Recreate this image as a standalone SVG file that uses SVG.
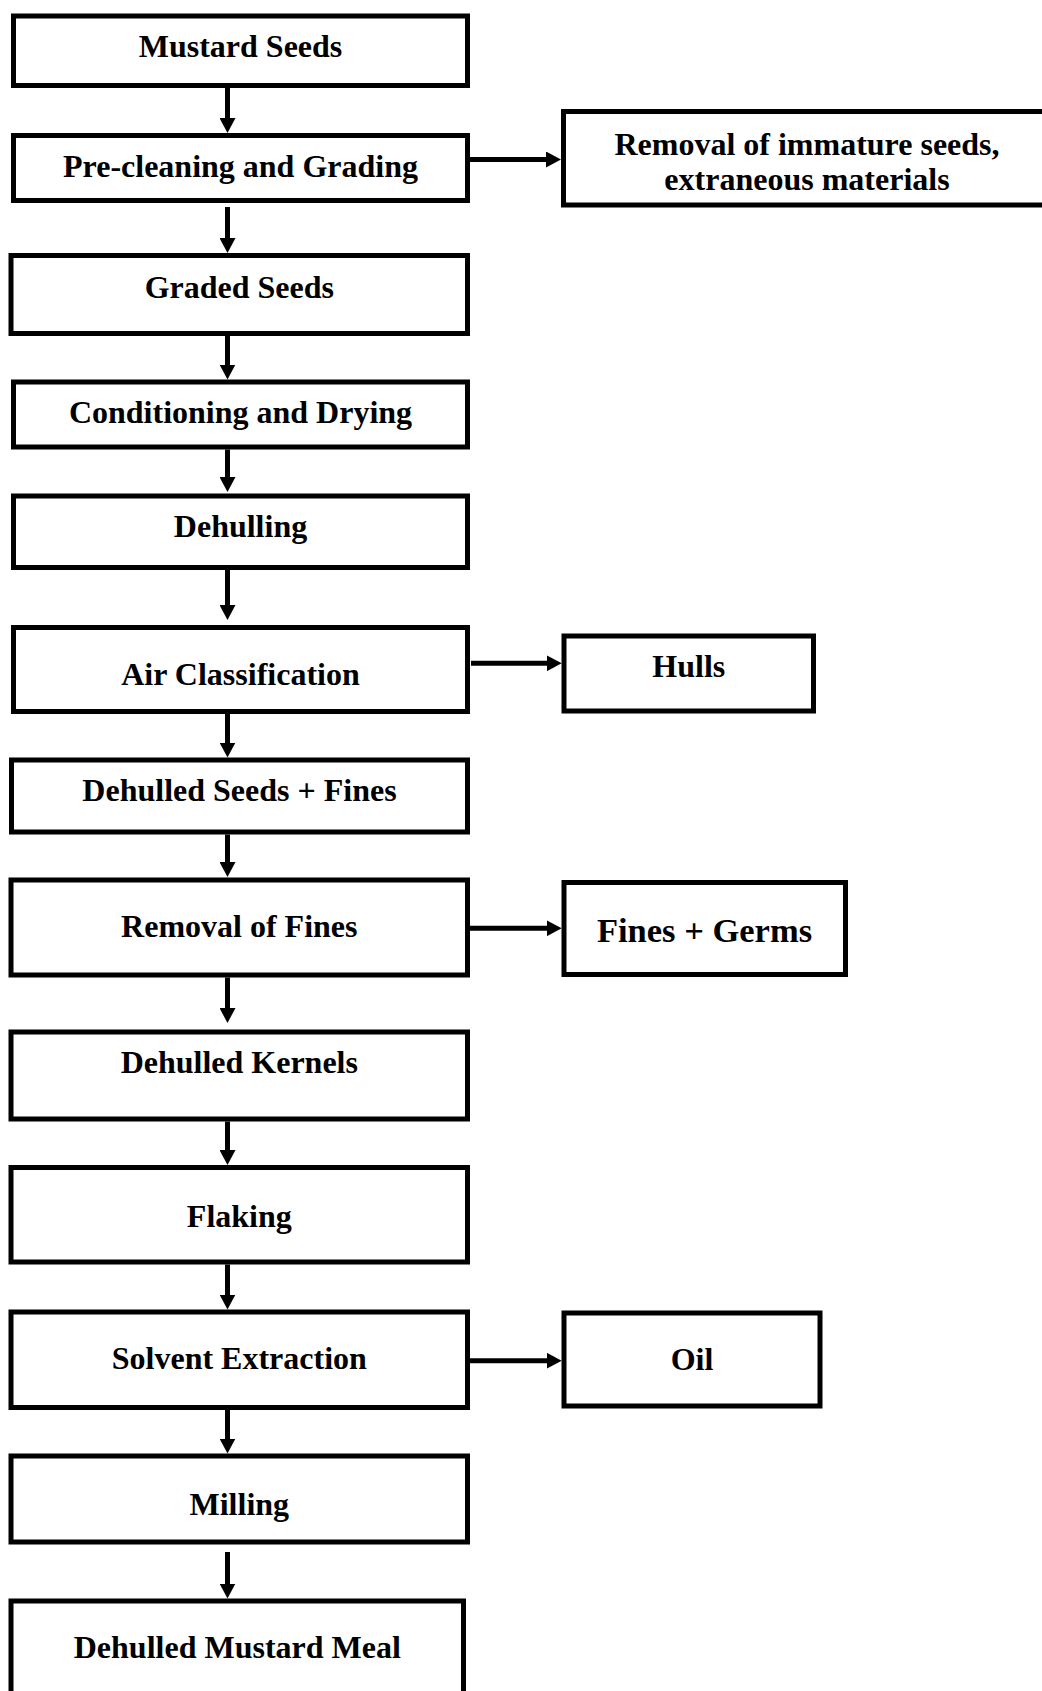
<svg xmlns="http://www.w3.org/2000/svg" width="1042" height="1691" viewBox="0 0 1042 1691">
<style>
.box{fill:#fff;stroke:#000;stroke-width:5}
.t{font-family:"Liberation Serif","Times New Roman",serif;font-weight:bold;font-size:32px;text-anchor:middle;fill:#000}
.c{stroke:#000;stroke-width:5;fill:none;marker-end:url(#ah)}
</style>
<defs>
<marker id="ah" markerUnits="userSpaceOnUse" markerWidth="15" markerHeight="16" refX="5" refY="8" orient="auto">
<path d="M0,0 L15,8 L0,16 z" fill="#000"/>
</marker>
</defs>
<rect width="1042" height="1691" fill="#fff"/>
<g id="connectors">
<line class="c" x1="227.5" y1="88" x2="227.5" y2="123"/>
<line class="c" x1="227.5" y1="207" x2="227.5" y2="243"/>
<line class="c" x1="227.5" y1="328" x2="227.5" y2="369.5"/>
<line class="c" x1="227.5" y1="449.5" x2="227.5" y2="482"/>
<line class="c" x1="227.5" y1="570" x2="227.5" y2="610"/>
<line class="c" x1="227.5" y1="714" x2="227.5" y2="747.5"/>
<line class="c" x1="227.5" y1="834.5" x2="227.5" y2="867"/>
<line class="c" x1="227.5" y1="977.5" x2="227.5" y2="1013"/>
<line class="c" x1="227.5" y1="1121.5" x2="227.5" y2="1155"/>
<line class="c" x1="227.5" y1="1264.5" x2="227.5" y2="1299.5"/>
<line class="c" x1="227.5" y1="1410" x2="227.5" y2="1443.5"/>
<line class="c" x1="227.5" y1="1552" x2="227.5" y2="1588.5"/>
<line class="c" x1="470" y1="159.5" x2="551" y2="159.5"/>
<line class="c" x1="471" y1="663.3" x2="551.7" y2="663.3"/>
<line class="c" x1="470" y1="928.3" x2="551.7" y2="928.3"/>
<line class="c" x1="470" y1="1360.7" x2="551.7" y2="1360.7"/>
</g>
<g id="n1"><rect class="box" x="13.5" y="16" width="454" height="69.5"/><text class="t" x="240.5" y="57">Mustard Seeds</text></g>
<g id="n2"><rect class="box" x="13.5" y="135.5" width="454" height="65"/><text class="t" x="240.5" y="176.7">Pre-cleaning and Grading</text></g>
<g id="n3"><rect class="box" x="11" y="255.5" width="456.5" height="78"/><text class="t" x="239.3" y="297.5">Graded Seeds</text></g>
<g id="n4"><rect class="box" x="13.5" y="382" width="454" height="65"/><text class="t" x="240.5" y="423">Conditioning and Drying</text></g>
<g id="n5"><rect class="box" x="13.5" y="496" width="454" height="71.5"/><text class="t" x="240.5" y="537.3">Dehulling</text></g>
<g id="n6"><rect class="box" x="13.5" y="627.5" width="454" height="84"/><text class="t" x="240.5" y="685">Air Classification</text></g>
<g id="n7"><rect class="box" x="11.5" y="760" width="456" height="72"/><text class="t" x="239.5" y="801">Dehulled Seeds + Fines</text></g>
<g id="n8"><rect class="box" x="11" y="880" width="456.5" height="95"/><text class="t" x="239.3" y="937.3">Removal of Fines</text></g>
<g id="n9"><rect class="box" x="11" y="1032" width="456.5" height="87"/><text class="t" x="239.3" y="1072.7">Dehulled Kernels</text></g>
<g id="n10"><rect class="box" x="11" y="1167.5" width="456.5" height="94.5"/><text class="t" x="239.3" y="1227.3">Flaking</text></g>
<g id="n11"><rect class="box" x="11" y="1312" width="456.5" height="95.5"/><text class="t" x="239.3" y="1369.3">Solvent Extraction</text></g>
<g id="n12"><rect class="box" x="11" y="1456" width="456.5" height="86"/><text class="t" x="239.3" y="1514.5">Milling</text></g>
<g id="n13"><rect class="box" x="11" y="1601" width="452.5" height="120"/><text class="t" x="237.3" y="1658.3">Dehulled Mustard Meal</text></g>
<g id="r1"><rect class="box" x="563.5" y="111.5" width="500" height="93.5"/><text class="t" x="807" y="155">Removal of immature seeds,</text><text class="t" x="807" y="190">extraneous materials</text></g>
<g id="r2"><rect class="box" x="564" y="636" width="249.5" height="75"/><text class="t" x="688.8" y="676.7">Hulls</text></g>
<g id="r3"><rect class="box" x="564" y="882.5" width="281.5" height="92"/><text class="t" x="704.5" y="941.7" style="font-size:34.5px">Fines + Germs</text></g>
<g id="r4"><rect class="box" x="564" y="1313" width="256" height="93"/><text class="t" x="692" y="1370">Oil</text></g>
</svg>
